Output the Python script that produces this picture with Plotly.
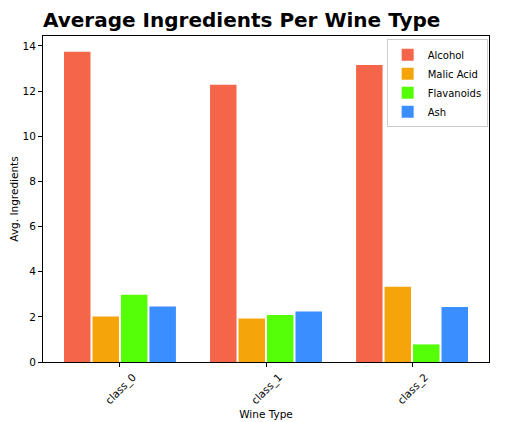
import plotly.graph_objects as go

# wine classes and mean ingredient values per class
wine_types = ["class_0", "class_1", "class_2"]
alcohol = [13.74, 12.28, 13.15]
malic_acid = [2.01, 1.93, 3.33]
flavanoids = [2.98, 2.08, 0.78]
ash = [2.46, 2.24, 2.44]

series = [
    ("Alcohol", alcohol, "#F4654A"),
    ("Malic Acid", malic_acid, "#F5A40A"),
    ("Flavanoids", flavanoids, "#55FF08"),
    ("Ash", ash, "#3A8EFF"),
]

fig = go.Figure()
for name, vals, color in series:
    fig.add_trace(go.Bar(name=name, x=wine_types, y=vals, marker_color=color, marker_line_width=0))

axis_style = dict(
    showline=True, linecolor="black", linewidth=1, mirror=True, automargin=False,
    ticks="outside", ticklen=4, tickcolor="black", showgrid=False, zeroline=False,
    tickfont=dict(size=10.5, color="black"),
)

# page body has an 8px margin, so the figure is sized a bit smaller than the window
fig.update_layout(
    width=501, height=414,
    paper_bgcolor="white", plot_bgcolor="white",
    font=dict(family="DejaVu Sans", color="black"),
    margin=dict(l=35, r=20, t=28, b=60),
    barmode="group", bargap=0.22, bargroupgap=0.07,
    title=dict(text="<b>Average Ingredients Per Wine Type</b>", x=35 / 501, xanchor="left",
               y=0.971, yanchor="middle", font=dict(size=20, color="black")),
    showlegend=True,
    legend=dict(x=0.997, y=0.99, xanchor="right", yanchor="top", bordercolor="#cccccc",
                borderwidth=1, bgcolor="white", font=dict(size=10), itemwidth=30,
                tracegroupgap=0),
)
# rotated labels centred under the tick like matplotlib does
fig.update_xaxes(axis_style, tickangle=-45, range=[-0.527, 2.527], ticklabelshift=13,
                 title=dict(text="Wine Type", font=dict(size=10.5), standoff=4))
fig.update_yaxes(axis_style, range=[0, 14.44], tick0=0, dtick=2,
                 title=dict(text="Avg. Ingredients", font=dict(size=10.5), standoff=8))

fig.write_html("out.html")
